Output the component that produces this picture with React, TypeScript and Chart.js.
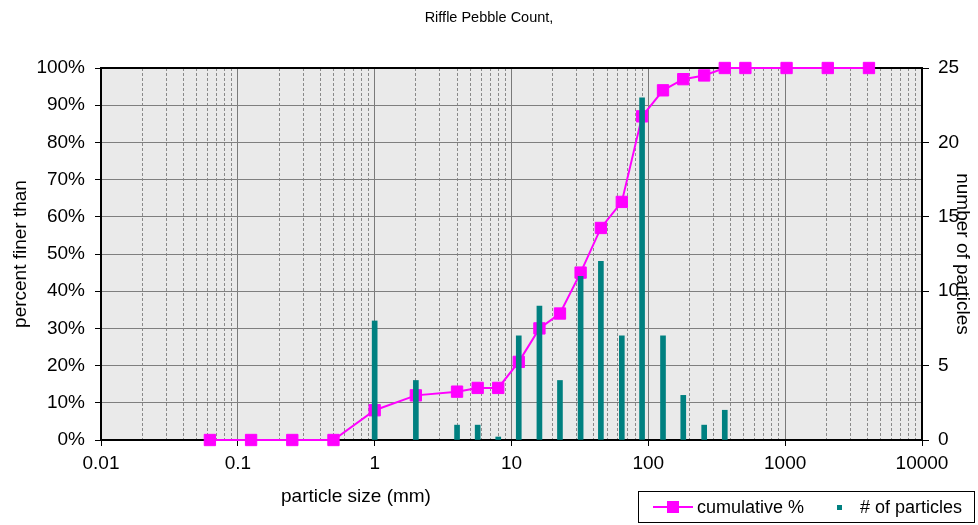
import React, { useEffect, useRef } from 'react';
import { Chart, registerables } from 'chart.js';

Chart.register(...registerables);

// ---- text ----
const chartTitle = 'Riffle Pebble Count,';
const xAxisTitle = 'particle size (mm)';
const yLeftTitle = 'percent finer than';
const yRightTitle = 'number of particles';
const lineLabel = 'cumulative %';
const barLabel = '# of particles';

// ---- data ----
const cumulativeSizes = [0.0625, 0.125, 0.25, 0.5, 1, 2, 4, 5.66, 8, 11.3, 16, 22.6, 32, 45, 64, 90, 128, 180, 256, 362, 512, 1024, 2048, 4096];
const cumulativePercent = [0, 0, 0, 0, 8, 12, 13, 14, 14, 21, 30, 34, 45, 57, 64, 87, 94, 97, 98, 100, 100, 100, 100, 100];
const countSizes = [1, 2, 4, 5.66, 8, 11.3, 16, 22.6, 32, 45, 64, 90, 128, 180, 256, 362];
const particleCounts = [8, 4, 1, 1, 0, 7, 9, 4, 11, 12, 7, 23, 7, 3, 1, 2];

// ---- ticks ----
const xMajorTicks = [0.01, 0.1, 1, 10, 100, 1000, 10000];
const xMinorMultipliers = [2, 3, 4, 5, 6, 7, 8, 9];
const yLeftTicksStep = 10;
const yRightTicksStep = 5;

const FONT = '"Liberation Sans", Arial, Helvetica, sans-serif';

const isMajor = (v: number) => Math.abs(Math.log10(v) - Math.round(Math.log10(v))) < 1e-9;
const xTickValues: number[] = xMajorTicks.flatMap((m, i) =>
  i < xMajorTicks.length - 1 ? [m, ...xMinorMultipliers.map((k) => Number((m * k).toPrecision(6)))] : [m]
);

const decorPlugin = {
  id: 'decor',
  beforeDraw(chart: any) {
    const { ctx, chartArea: a } = chart;
    ctx.save();
    ctx.fillStyle = '#eaeaea';
    ctx.fillRect(a.left, a.top, a.right - a.left, a.bottom - a.top);
    ctx.restore();
  },
  beforeDatasetsDraw(chart: any) {
    const { ctx, chartArea: a } = chart;
    ctx.save();
    ctx.strokeStyle = '#000';
    ctx.lineWidth = 2;
    ctx.beginPath();
    ctx.moveTo(a.left, a.top);
    ctx.lineTo(a.right, a.top);
    ctx.stroke();
    ctx.restore();
  },
  afterDraw(chart: any) {
    const { ctx } = chart;
    ctx.save();
    // x axis title
    ctx.fillStyle = '#000';
    ctx.font = `19px ${FONT}`;
    ctx.textAlign = 'center';
    ctx.textBaseline = 'middle';
    ctx.fillText(xAxisTitle, 356, 497);

    // legend
    const lx = 638.5, ly = 491.5, lw = 336, lh = 31;
    ctx.fillStyle = '#fff';
    ctx.fillRect(lx, ly, lw, lh);
    ctx.strokeStyle = '#000';
    ctx.lineWidth = 1;
    ctx.strokeRect(lx, ly, lw, lh);
    const cy = ly + lh / 2;
    ctx.strokeStyle = '#ff00ff';
    ctx.lineWidth = 2;
    ctx.beginPath();
    ctx.moveTo(653, cy);
    ctx.lineTo(693, cy);
    ctx.stroke();
    ctx.fillStyle = '#ff00ff';
    ctx.fillRect(667, cy - 6, 12, 12);
    ctx.fillStyle = '#000';
    ctx.font = `18px ${FONT}`;
    ctx.textAlign = 'left';
    ctx.fillText(lineLabel, 697, cy + 1);
    ctx.fillStyle = '#008080';
    ctx.fillRect(837, cy - 2, 5, 5);
    ctx.fillStyle = '#000';
    ctx.fillText(barLabel, 860, cy + 1);
    ctx.restore();
  },
};

export default function App() {
  const ref = useRef<HTMLCanvasElement | null>(null);

  useEffect(() => {
    if (!ref.current) return;
    const chart = new Chart(ref.current, {
      type: 'bar',
      data: {
        datasets: [
          {
            type: 'line',
            label: lineLabel,
            data: cumulativeSizes.map((x, i) => ({ x, y: cumulativePercent[i] })),
            yAxisID: 'y',
            borderColor: '#ff00ff',
            backgroundColor: '#ff00ff',
            borderWidth: 2,
            pointStyle: 'rect',
            pointRadius: 8,
            pointBorderWidth: 1,
            pointBackgroundColor: '#ff00ff',
            pointBorderColor: '#ff00ff',
            tension: 0,
            clip: false,
            order: 2,
          } as any,
          {
            type: 'bar',
            label: barLabel,
            data: countSizes.map((x, i) => ({ x, y: particleCounts[i] })),
            yAxisID: 'y1',
            backgroundColor: '#008080',
            barThickness: 5,
            minBarLength: 3,
            clip: false,
            order: 1,
          } as any,
        ],
      },
      options: {
        animation: false,
        responsive: false,
        devicePixelRatio: 1,
        layout: { padding: 0 },
        plugins: {
          legend: { display: false },
          tooltip: { enabled: false },
          title: {
            display: true,
            text: chartTitle,
            color: '#000',
            font: { family: FONT, size: 14.5, weight: 'normal' },
            padding: { top: 9.3, bottom: 41.3 },
          },
        },
        scales: {
          x: {
            type: 'logarithmic',
            min: 0.01,
            max: 10000,
            offset: false,
            afterBuildTicks: (s: any) => {
              s.ticks = xTickValues.map((v) => ({ value: v, major: isMajor(v) }));
            },
            afterFit: (s: any) => {
              s.height = 85;
            },
            ticks: {
              autoSkip: false,
              maxRotation: 0,
              minRotation: 0,
              padding: 6,
              color: '#000',
              font: { family: FONT, size: 19 },
              callback: (v: any) => (isMajor(Number(v)) ? String(Number(Number(v).toPrecision(6))) : ''),
            },
            grid: {
              offset: false,
              color: (c: any) => (c.tick && isMajor(c.tick.value) ? '#7a7a7a' : '#8a8a8a'),
              lineWidth: 1,
              tickLength: 6,
              tickColor: (c: any) => (c.tick && isMajor(c.tick.value) ? '#000' : 'rgba(0,0,0,0)'),
            },
            border: {
              color: '#000',
              width: 2,
              dash: (c: any) => (c.tick && !isMajor(c.tick.value) ? [3, 2] : []),
            },
          },
          y: {
            type: 'linear',
            position: 'left',
            min: 0,
            max: 100,
            afterFit: (s: any) => {
              s.width = 101;
            },
            ticks: {
              stepSize: yLeftTicksStep,
              padding: 10,
              color: '#000',
              font: { family: FONT, size: 19 },
              callback: (v: any) => `${v}%`,
            },
            grid: { color: '#7f7f7f', lineWidth: 1, tickLength: 6, tickColor: '#000' },
            border: { color: '#000', width: 2 },
            title: {
              display: true,
              text: yLeftTitle,
              color: '#000',
              font: { family: FONT, size: 19 },
              padding: { top: 9.6, bottom: 0 },
            },
          },
          y1: {
            type: 'linear',
            position: 'right',
            min: 0,
            max: 25,
            afterFit: (s: any) => {
              s.width = 56;
            },
            ticks: {
              stepSize: yRightTicksStep,
              padding: 9,
              color: '#000',
              font: { family: FONT, size: 19 },
            },
            grid: { drawOnChartArea: false, tickLength: 7, tickColor: '#000' },
            border: { color: '#000', width: 2 },
            title: {
              display: true,
              text: yRightTitle,
              color: '#000',
              font: { family: FONT, size: 19 },
              padding: { top: 4.6, bottom: 0 },
            },
          },
        },
      } as any,
      plugins: [decorPlugin],
    });
    return () => chart.destroy();
  }, []);

  return (
    <div style={{ position: 'absolute', left: 0, top: 0, width: 978, height: 525, background: '#fff' }}>
      <canvas ref={ref} width={978} height={525} style={{ display: 'block' }} />
    </div>
  );
}
